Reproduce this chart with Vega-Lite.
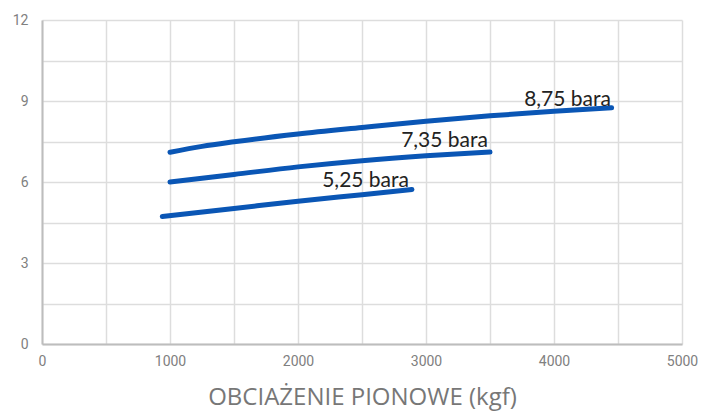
{
  "$schema": "https://vega.github.io/schema/vega-lite/v6.json",
  "width": 640,
  "height": 324,
  "autosize": "none",
  "padding": {"left": 42, "top": 20, "right": 22, "bottom": 68},
  "background": "white",
  "config": {
    "view": {"stroke": null},
    "axis": {"gridColor": "#dddddd", "gridWidth": 1.5, "domainColor": "#bdbdbd", "domainWidth": 2, "ticks": false, "labelColor": "#808080", "labelFont": "Roboto", "labelFontSize": 14, "labelFlush": false, "labelBound": false}
  },
  "datasets": {
    "curves": [
      {"s": "8,75 bara", "x": 1000, "y": 7.1},
      {"s": "8,75 bara", "x": 1250, "y": 7.32},
      {"s": "8,75 bara", "x": 1500, "y": 7.49},
      {"s": "8,75 bara", "x": 2000, "y": 7.78},
      {"s": "8,75 bara", "x": 2500, "y": 8.02},
      {"s": "8,75 bara", "x": 3000, "y": 8.25},
      {"s": "8,75 bara", "x": 3500, "y": 8.45},
      {"s": "8,75 bara", "x": 4000, "y": 8.62},
      {"s": "8,75 bara", "x": 4450, "y": 8.75},
      {"s": "7,35 bara", "x": 1000, "y": 6.0},
      {"s": "7,35 bara", "x": 1500, "y": 6.28},
      {"s": "7,35 bara", "x": 2000, "y": 6.56},
      {"s": "7,35 bara", "x": 2500, "y": 6.79},
      {"s": "7,35 bara", "x": 3000, "y": 6.97},
      {"s": "7,35 bara", "x": 3500, "y": 7.11},
      {"s": "5,25 bara", "x": 940, "y": 4.72},
      {"s": "5,25 bara", "x": 1500, "y": 5.02},
      {"s": "5,25 bara", "x": 2000, "y": 5.29},
      {"s": "5,25 bara", "x": 2500, "y": 5.53},
      {"s": "5,25 bara", "x": 2890, "y": 5.72}
    ],
    "labels": [
      {"s": "8,75 bara", "x": 4445, "y": 8.82},
      {"s": "7,35 bara", "x": 3484, "y": 7.28},
      {"s": "5,25 bara", "x": 2867, "y": 5.8}
    ]
  },
  "layer": [
    {
      "data": {"name": "curves"},
      "mark": {"type": "line", "interpolate": "monotone", "strokeWidth": 5, "strokeCap": "round", "color": "#0a56b5"},
      "encoding": {
        "x": {"field": "x", "type": "quantitative", "scale": {"domain": [0, 5000], "nice": false},
          "axis": {"values": [0, 500, 1000, 1500, 2000, 2500, 3000, 3500, 4000, 4500, 5000], "format": "d", "labelExpr": "datum.value % 1000 === 0 ? datum.label : ''", "labelPadding": 10, "title": "OBCIAŻENIE PIONOWE (kgf)", "titleFont": "Open Sans", "titleFontSize": 24, "titleFontWeight": "normal", "titleColor": "#777777", "titlePadding": 17}},
        "y": {"field": "y", "type": "quantitative", "scale": {"domain": [0, 12], "nice": false},
          "axis": {"values": [0, 1.5, 3, 4.5, 6, 7.5, 9, 10.5, 12], "labelExpr": "datum.value % 3 === 0 ? datum.label : ''", "labelPadding": 14, "title": null}},
        "detail": {"field": "s"}
      }
    },
    {
      "data": {"name": "labels"},
      "mark": {"type": "text", "align": "right", "baseline": "alphabetic", "font": "Lato", "fontSize": 21, "color": "#222222"},
      "encoding": {
        "x": {"field": "x", "type": "quantitative"},
        "y": {"field": "y", "type": "quantitative"},
        "text": {"field": "s"}
      }
    }
  ]
}
